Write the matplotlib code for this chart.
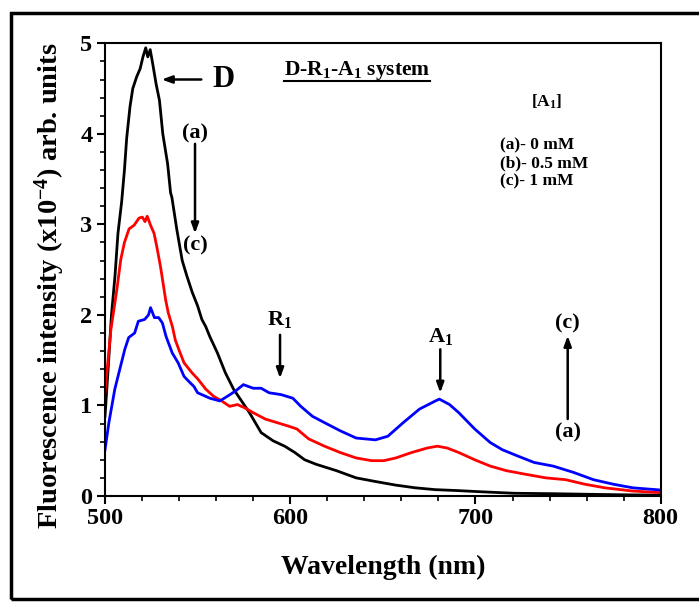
import matplotlib
matplotlib.use("Agg")
import matplotlib.pyplot as plt
from matplotlib.lines import Line2D
from matplotlib.patches import Rectangle
from matplotlib.ticker import MultipleLocator

plt.rcParams["font.family"] = ["Liberation Serif", "DejaVu Serif"]
plt.rcParams["font.weight"] = "bold"
plt.rcParams["mathtext.fontset"] = "custom"
plt.rcParams["mathtext.rm"] = "Liberation Serif:bold"
plt.rcParams["mathtext.it"] = "Liberation Serif:bold"
plt.rcParams["mathtext.bf"] = "Liberation Serif:bold"

# (a) 0 mM A1 - black
wl_a = [500, 502, 503.5, 505.4, 507, 509, 510.5, 511.7, 513.5, 515, 517.1, 519,
        520.5, 522, 523.1, 524.4, 525.8, 527.6, 529.4, 531.2, 533.8, 535.4, 536.1,
        538.8, 541.7, 544.2, 547.1, 550, 552.3, 554.4, 556.6, 560.7, 565, 569.4,
        573.7, 578, 584.3, 590.7, 597, 602.5, 607.8, 614, 624.9, 635.6, 646, 657,
        667.6, 678.3, 690, 699.6, 710, 721, 742.3, 763.7, 780, 800]
int_a = [0.88, 1.5, 2.0, 2.43, 2.9, 3.25, 3.6, 3.95, 4.3, 4.5, 4.63, 4.72,
         4.85, 4.95, 4.85, 4.93, 4.77, 4.55, 4.37, 4.0, 3.67, 3.35, 3.3,
         2.94, 2.6, 2.43, 2.25, 2.1, 1.95, 1.87, 1.76, 1.58, 1.36, 1.18,
         1.05, 0.92, 0.70, 0.61, 0.55, 0.48, 0.40, 0.35, 0.28, 0.20, 0.16, 0.12,
         0.09, 0.07, 0.06, 0.05, 0.04, 0.03, 0.025, 0.018, 0.013, 0.01]

# (b) 0.5 mM A1 - red
wl_b = [500, 503.2, 506.4, 508.5, 510.5, 513, 515.7, 518.4, 520.2, 521.6, 522.8,
        524.6, 526.5, 528, 530, 532.8, 534.2, 536.4, 538, 540, 542.7, 547, 550.2,
        554.4, 558.7, 563, 567.3, 571.5, 575.8, 580, 586.5, 592.9, 599.3, 603.6,
        610, 618.5, 627, 635.6, 644, 650.5, 657, 665.5, 674, 679.4, 684.7, 691,
        699.6, 708, 716.6, 727, 738, 748.7, 759, 769.9, 784.7, 800]
int_b = [1.14, 1.84, 2.28, 2.61, 2.8, 2.95, 2.99, 3.07, 3.08, 3.03, 3.09,
         2.99, 2.9, 2.75, 2.53, 2.16, 2.02, 1.87, 1.72, 1.61, 1.47, 1.36, 1.29,
         1.18, 1.10, 1.05, 0.99, 1.01, 0.97, 0.92, 0.85, 0.81, 0.77, 0.74,
         0.63, 0.55, 0.48, 0.42, 0.39, 0.39, 0.42, 0.48, 0.53, 0.55, 0.53, 0.48,
         0.40, 0.33, 0.28, 0.24, 0.20, 0.18, 0.13, 0.09, 0.055, 0.037]

# (c) 1 mM A1 - blue
wl_c = [500, 502.1, 505.3, 507.5, 510.7, 512.8, 516, 518, 521.4, 523.5, 524.6,
        526.7, 529, 531, 533, 536.3, 539.5, 542.7, 546, 548, 550, 556.6, 562, 566,
        570.5, 574.7, 580, 584.3, 588.6, 595, 601.4, 605.7, 612, 618.5, 627,
        635.6, 646, 652.7, 661, 669.8, 678.4, 680.5, 686, 691, 699.6, 708, 714.6,
        723, 731.7, 742, 753, 763.7, 774.4, 785, 800]
int_c = [0.51, 0.81, 1.18, 1.36, 1.62, 1.75, 1.80, 1.93, 1.95, 2.0, 2.08,
         1.97, 1.97, 1.91, 1.76, 1.58, 1.47, 1.32, 1.25, 1.21, 1.14, 1.08, 1.05, 1.1,
         1.16, 1.23, 1.19, 1.19, 1.14, 1.12, 1.08, 0.99, 0.88, 0.81, 0.72,
         0.64, 0.62, 0.66, 0.81, 0.96, 1.05, 1.07, 1.01, 0.92, 0.74, 0.59, 0.51,
         0.44, 0.37, 0.33, 0.26, 0.18, 0.13, 0.09, 0.066]

legend_lines = ["(a)- 0 mM", "(b)- 0.5 mM", "(c)- 1 mM"]

fig = plt.figure(figsize=(6.99, 6.02), dpi=100, facecolor="white")
ax = fig.add_axes([0.1502, 0.1761, 0.795, 0.752])

ax.plot(wl_a, int_a, color="black", lw=2.0)
ax.plot(wl_b, int_b, color="#ff0000", lw=2.0)
ax.plot(wl_c, int_c, color="#0000ff", lw=2.0)

ax.set_xlim(500, 800)
ax.set_ylim(0, 5)
ax.xaxis.set_major_locator(MultipleLocator(100))
ax.xaxis.set_minor_locator(MultipleLocator(20))
ax.yaxis.set_major_locator(MultipleLocator(1))
ax.yaxis.set_minor_locator(MultipleLocator(0.2))
ax.tick_params(which="major", direction="out", length=6, width=1.5, labelsize=17.5, pad=3)
ax.tick_params(which="minor", direction="out", length=3.5, width=1.2)
for sp in ax.spines.values():
    sp.set_linewidth(1.5)
for lbl in ax.get_xticklabels() + ax.get_yticklabels():
    lbl.set_fontweight("bold")

ax.set_xlabel("Wavelength (nm)", fontsize=20, fontweight="bold")
ax.xaxis.set_label_coords(0.5, -0.131)
ax.set_ylabel("Fluorescence intensity (x10$^{-4}$) arb. units", fontsize=20.5,
              fontweight="bold")
ax.yaxis.set_label_coords(-0.068, 0.465)

arrow = dict(arrowstyle="-|>,head_length=0.6,head_width=0.22", color="black", lw=1.8,
             shrinkA=0, shrinkB=0)

# D label
ax.annotate("", xy=(530.6, 4.6), xytext=(552, 4.6), arrowprops=arrow)
ax.text(558, 4.6, "D", fontsize=22, fontweight="bold", ha="left", va="center")

# (a) -> (c) down
ax.text(548.6, 4.0, "(a)", fontsize=16, fontweight="bold", ha="center", va="center")
ax.annotate("", xy=(548.6, 2.9), xytext=(548.6, 3.89), arrowprops=arrow)
ax.text(548.6, 2.77, "(c)", fontsize=16, fontweight="bold", ha="center", va="center")

# title
title = ax.text(636, 4.7, "D-R$_1$-A$_1$ system", fontsize=15.5, fontweight="bold",
                ha="center", va="center")

# concentration list
ax.text(738.4, 4.35, "[A$_1$]", fontsize=12.5, fontweight="bold", ha="center", va="center")
for i, s in enumerate(legend_lines):
    ax.text(713, 3.87 - 0.2 * i, s, fontsize=12.5, fontweight="bold",
            ha="left", va="center")

# R1, A1
ax.text(594.5, 1.95, "R$_1$", fontsize=16, fontweight="bold", ha="center", va="center")
ax.annotate("", xy=(594.5, 1.3), xytext=(594.5, 1.78), arrowprops=arrow)
ax.text(681, 1.76, "A$_1$", fontsize=16, fontweight="bold", ha="center", va="center")
ax.annotate("", xy=(681, 1.14), xytext=(681, 1.62), arrowprops=arrow)

# (a) -> (c) up
ax.text(749.8, 1.9, "(c)", fontsize=16, fontweight="bold", ha="center", va="center")
ax.annotate("", xy=(749.8, 1.77), xytext=(749.8, 0.85), arrowprops=arrow)
ax.text(749.8, 0.70, "(a)", fontsize=16, fontweight="bold", ha="center", va="center")

# underline the title
fig.canvas.draw()
bb = title.get_window_extent().transformed(fig.transFigure.inverted())
fig.add_artist(Line2D([bb.x0, bb.x1], [bb.y0 + 0.001, bb.y0 + 0.001],
                      transform=fig.transFigure, color="black", lw=1.5))

# outer frame
fig.add_artist(Rectangle((11 / 699, 1 - 599 / 602), 1.0, (599 - 13) / 602,
                         transform=fig.transFigure, fill=False, lw=2.5,
                         edgecolor="black", clip_on=False))

fig.savefig("out.png", dpi=100, facecolor="white")
